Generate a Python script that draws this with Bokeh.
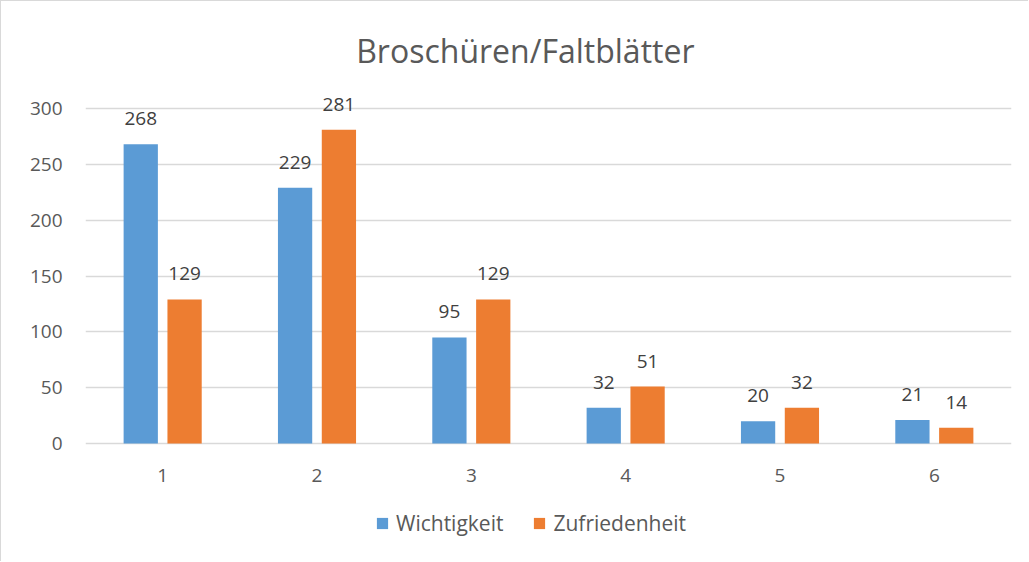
from bokeh.plotting import figure
from bokeh.models import (ColumnDataSource, FactorRange, Range1d, FixedTicker,
                          LabelSet, Label, Legend, LegendItem)
from bokeh.transform import dodge
from bokeh.core.properties import value
from bokeh.embed import file_html
from bokeh.resources import INLINE

# ---- data ----
categories = ["1", "2", "3", "4", "5", "6"]
wichtigkeit = [268, 229, 95, 32, 20, 21]
zufriedenheit = [129, 281, 129, 51, 32, 14]
series_names = ["Wichtigkeit", "Zufriedenheit"]
title_text = "Broschüren/Faltblätter"
y_ticks = [0, 50, 100, 150, 200, 250, 300]

FONT = "Open Sans"
BLUE = "#5B9BD5"
ORANGE = "#ED7D31"
GRID = "#D9D9D9"
TXT = "#595959"

src = ColumnDataSource(dict(
    cat=categories,
    w=wichtigkeit,
    z=zufriedenheit,
    wl=[str(v) for v in wichtigkeit],
    zl=[str(v) for v in zufriedenheit],
))

# frame spans the full canvas height; value axis 0..300 maps to y 443..108
PX_PER_UNIT = 335 / 300
y_lo = -(562 - 443) / PX_PER_UNIT
y_hi = 300 + (108 - 1) / PX_PER_UNIT

p = figure(width=1028, height=561,
           x_range=FactorRange(*categories),
           y_range=Range1d(y_lo, y_hi),
           output_backend="svg", toolbar_location=None,
           min_border_left=84, min_border_right=18,
           min_border_top=0, min_border_bottom=0)
p.styles = {"border-top": "1px solid #D9D9D9", "border-left": "1px solid #D9D9D9"}
p.outline_line_color = None
p.background_fill_color = "white"
p.border_fill_color = "white"

off = 0.142
bw = 0.222
r1 = p.vbar(x=dodge("cat", -off, range=p.x_range), top="w", width=bw,
            source=src, fill_color=BLUE, line_color=None)
r2 = p.vbar(x=dodge("cat", off, range=p.x_range), top="z", width=bw,
            source=src, fill_color=ORANGE, line_color=None)

for col, lab, o in (("w", "wl", -off), ("z", "zl", off)):
    ls = LabelSet(x=dodge("cat", o, range=p.x_range), y=col, text=lab, source=src,
                  text_align="center", text_baseline="alphabetic", y_offset=19,
                  text_font=value(FONT), text_font_size="19px", text_color="#404040")
    p.add_layout(ls)

# category labels under the baseline
cat_labels = LabelSet(x="cat", y=0, text="cat", source=src, y_offset=-32,
                      text_align="center", text_baseline="middle",
                      text_font=value(FONT), text_font_size="19px", text_color=TXT)
p.add_layout(cat_labels)

# axes
p.xaxis.visible = False
p.yaxis.ticker = FixedTicker(ticks=y_ticks)
p.yaxis.axis_line_color = None
p.yaxis.major_tick_line_color = None
p.yaxis.minor_tick_line_color = None
p.yaxis.major_tick_out = 0
p.yaxis.major_tick_in = 0
p.yaxis.major_label_standoff = 23
p.yaxis.major_label_text_font = FONT
p.yaxis.major_label_text_font_size = "19px"
p.yaxis.major_label_text_color = TXT

p.xgrid.grid_line_color = None
p.ygrid.grid_line_color = GRID
p.ygrid.grid_line_width = 1.5
p.ygrid.ticker = FixedTicker(ticks=y_ticks)

# title
p.add_layout(Label(x=2.85, y=352, text=title_text, text_align="center",
                   text_baseline="middle", text_font=FONT,
                   text_font_size="32px", text_color=TXT))

legend = Legend(items=[LegendItem(label=series_names[0], renderers=[r1]),
                       LegendItem(label=series_names[1], renderers=[r2])],
                location=(290, 25), orientation="horizontal",
                glyph_width=14, glyph_height=14, label_standoff=7, spacing=29,
                padding=0, margin=0, border_line_color=None,
                background_fill_alpha=0,
                label_text_font=FONT, label_text_font_size="21px",
                label_text_color=TXT, label_height=20)
p.add_layout(legend)

open("out.html", "w").write(file_html(p, INLINE))
